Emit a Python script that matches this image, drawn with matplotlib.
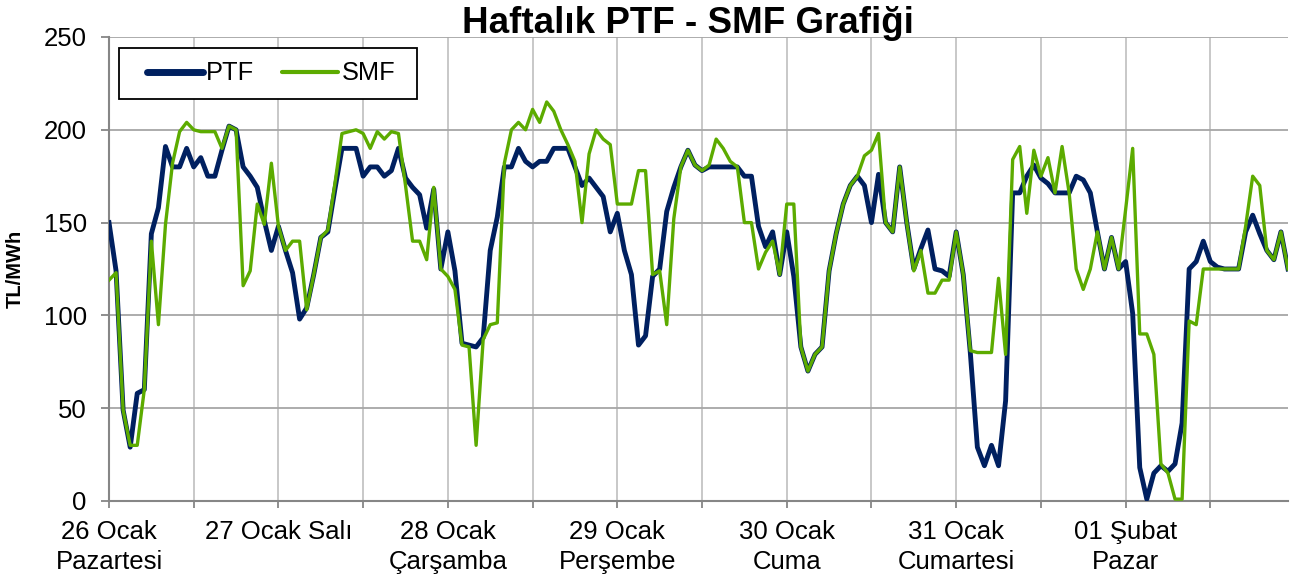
import numpy as np
import matplotlib
matplotlib.use("Agg")
import matplotlib.pyplot as plt
from matplotlib.patches import Rectangle

plt.rcParams['font.family'] = ['Liberation Sans', 'DejaVu Sans']

# hourly values, one row per day (24 h)
ptf = [
    150, 124, 49, 29, 58, 60, 144, 158, 191, 180, 180, 190, 180, 185, 175, 175, 189, 202, 200, 180, 175, 169, 151, 135,
    148, 135, 123, 98, 104, 122, 142, 145, 168, 190, 190, 190, 175, 180, 180, 175, 178, 190, 174, 169, 165, 147, 168, 125,
    145, 124, 85, 84, 83, 88, 135, 153, 180, 180, 190, 183, 180, 183, 183, 190, 190, 190, 180, 170, 174, 169, 164, 145,
    155, 135, 122, 84, 89, 121, 125, 156, 169, 180, 189, 181, 178, 180, 180, 180, 180, 180, 175, 175, 148, 137, 145, 122,
    145, 121, 83, 70, 79, 83, 124, 144, 160, 170, 175, 170, 150, 176, 150, 145, 180, 150, 125, 136, 146, 125, 124, 121,
    145, 122, 80, 29, 19, 30, 19, 54, 166, 166, 175, 181, 174, 171, 166, 166, 166, 175, 173, 166, 145, 125, 142, 125,
    129, 101, 18, 1, 15, 19, 16, 20, 42, 125, 129, 140, 129, 126, 125, 125, 125, 145, 154, 144, 135, 130, 145, 125,
]
smf = [
    119, 123, 49, 30, 30, 60, 140, 95, 149, 182, 199, 204, 200, 199, 199, 199, 190, 202, 200, 116, 124, 160, 149, 182,
    148, 135, 140, 140, 103, 122, 142, 146, 171, 198, 199, 200, 198, 190, 199, 195, 199, 198, 170, 140, 140, 130, 169, 125,
    121, 114, 84, 83, 30, 87, 95, 96, 182, 200, 204, 200, 211, 204, 215, 210, 200, 192, 183, 150, 187, 200, 195, 192,
    160, 160, 160, 178, 178, 122, 124, 95, 152, 180, 189, 181, 178, 181, 195, 190, 183, 180, 150, 150, 125, 134, 140, 122,
    160, 160, 83, 70, 79, 83, 124, 144, 160, 170, 175, 186, 189, 198, 150, 145, 180, 150, 124, 135, 112, 112, 119, 119,
    145, 122, 81, 80, 80, 80, 120, 79, 184, 191, 155, 189, 175, 185, 166, 191, 166, 125, 114, 125, 145, 125, 142, 125,
    157, 190, 90, 90, 79, 20, 15, 1, 1, 97, 95, 125, 125, 125, 125, 125, 125, 148, 175, 170, 135, 130, 145, 125,
]
day_labels = ["26 Ocak\nPazartesi", "27 Ocak Salı", "28 Ocak\nÇarşamba", "29 Ocak\nPerşembe",
              "30 Ocak\nCuma", "31 Ocak\nCumartesi", "01 Şubat\nPazar"]

hours = np.arange(len(ptf))

W, H = 1290, 583
fig = plt.figure(figsize=(W / 100, H / 100), dpi=100)
ax_l, ax_b, ax_w, ax_h = 109, 82, 1179, 464
ax = fig.add_axes([ax_l / W, ax_b / H, ax_w / W, ax_h / H])

ax.plot(hours, ptf, color='#002060', lw=3.5, label='PTF', solid_joinstyle='round', zorder=3)
ax.plot(hours, smf, color='#5cab00', lw=2.4, label='SMF', solid_joinstyle='round', zorder=4)

ax.set_xlim(0, 167)
ax.set_ylim(0, 250)
ax.set_yticks(range(0, 251, 50))
ax.set_xticks(range(0, 168, 24))
ax.set_xticklabels(day_labels, linespacing=1.3)
ax.set_xticks(range(12, 168, 24), minor=True)

ax.grid(axis='y', color='#a6a6a6', lw=1.3, zorder=0)
ax.grid(axis='x', which='both', color='#c4c4c4', lw=1.3, zorder=0)
for s in ['top', 'right']:
    ax.spines[s].set_visible(False)
for s in ['left', 'bottom']:
    ax.spines[s].set_color('#868686')
    ax.spines[s].set_linewidth(1.5)

ax.tick_params(axis='y', labelsize=18.5, length=6, width=1.3, color='#868686', pad=10)
ax.tick_params(axis='x', which='both', labelsize=18.5, length=5, width=1.3, color='#868686', pad=9)

ax.set_ylabel('TL/MWh', fontsize=14.5, fontweight='bold')
ax.yaxis.label.set_va('center')
ax.yaxis.set_label_coords((15 - ax_l) / ax_w, 0.5)

fig.text(688 / W, 1 - 33 / H, 'Haftalık PTF - SMF Grafiği', ha='center', va='baseline',
         fontsize=26.5, fontweight='bold')

# legend box drawn separately so its padding can match the original
ax.add_patch(Rectangle(((119 - ax_l) / ax_w, ((H - 99) - ax_b) / ax_h),
                       298 / ax_w, 51 / ax_h, transform=ax.transAxes, fill=True,
                       facecolor='white', edgecolor='black', lw=1.3, zorder=5))
leg = ax.legend(loc='center left', bbox_to_anchor=((139 - ax_l) / ax_w, ((H - 73.5) - ax_b) / ax_h),
                ncol=2, fontsize=18.3, handlelength=2.2, handletextpad=0.15, columnspacing=1.1,
                borderpad=0.3, borderaxespad=0, frameon=False)
leg.set_zorder(6)
for line, lw in zip(leg.get_lines(), [5, 3]):
    line.set_linewidth(lw)
    line.set_solid_capstyle('round')

fig.savefig('out.png', dpi=100)
